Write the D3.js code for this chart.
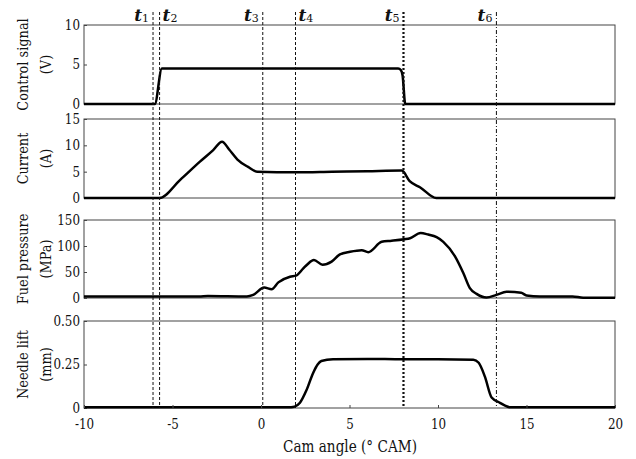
<!DOCTYPE html>
<html>
<head>
<meta charset="utf-8">
<script src="https://cdn.jsdelivr.net/npm/d3@7"></script>
<style>
  body { margin: 0; background: #fff; }
  svg { display: block; }
</style>
</head>
<body>
<svg id="chart" width="636" height="459"></svg>
<script>
// cam angle ticks (shared x axis)
var xTicks = [-10, -5, 0, 5, 10, 15, 20];

// event markers t1..t6 (deg CAM)
var markerNames = ["1", "2", "3", "4", "5", "6"];
var markerAngles = [-6.1, -5.73, 0.1, 1.95, 8.05, 13.3];

// control signal (V)
var signalAngle = [-10, -6.0, -5.6, 7.75, 7.9, 8.0, 8.15, 20];
var signalValue = [0, 0, 4.5, 4.5, 4.3, 3.6, 0, 0];

// injector current (A)
var currentAngle = [-10, -5.73, -4.58, -3.45, -2.7, -2.2, -1.8, -1.33, -0.73, -0.2, 2, 4, 6, 7.95, 8.4, 9.0, 9.9, 20];
var currentValue = [0, 0, 3.4, 6.9, 9.1, 10.7, 9.2, 7.3, 5.9, 5.0, 4.9, 5.0, 5.1, 5.2, 3.2, 2.0, 0, 0];

// fuel pressure (MPa)
var pressureAngle = [-10, -3.5, -3.0, -0.8, -0.44, 0.18, 0.6, 0.98, 1.64, 1.98, 2.39, 2.6, 2.99, 3.48, 3.99, 4.46, 5.03, 5.69, 6.06, 6.82, 7.38, 8.08, 8.42, 9.02, 9.45, 9.92, 10.3, 10.96, 11.43, 11.8, 12.18, 12.74, 13.3, 13.87, 14.7, 15.0, 15.76, 17.6, 18.2, 20];
var pressureValue = [3, 3, 4, 3, 6, 20, 17, 30, 41, 43, 57, 64, 73, 64, 70, 84, 89, 92, 88, 108, 110, 113, 115, 125, 122, 117, 108, 80, 48, 19, 8, 1, 6, 12, 10, 5, 3, 3, 0.5, 0.5];

// needle lift (mm)
var liftAngle = [-10, 1.7, 1.9, 2.2, 2.56, 2.94, 3.2, 3.41, 4.07, 6, 8, 10, 12.0, 12.3, 12.65, 13.03, 13.5, 14.04, 20];
var liftValue = [0.005, 0.005, 0.008, 0.03, 0.1, 0.2, 0.25, 0.27, 0.28, 0.282, 0.28, 0.28, 0.278, 0.26, 0.18, 0.06, 0.03, 0.005, 0.005];

var serif = "'DejaVu Serif', serif";

// DejaVu Serif is wider than the Times face of the original, narrow it a bit
function squeeze(sel, k) {
  sel.each(function() {
    var w = this.getComputedTextLength();
    d3.select(this).attr("textLength", w * k).attr("lengthAdjust", "spacingAndGlyphs");
  });
}

var panels = [
  { top: 25, bottom: 104, max: 10, ticks: [0, 5, 10], label: ["Control signal", "(V)"], xs: signalAngle, ys: signalValue, fmt: function(d) { return String(d); } },
  { top: 119, bottom: 198, max: 15, ticks: [0, 5, 10, 15], label: ["Current", "(A)"], xs: currentAngle, ys: currentValue, fmt: function(d) { return String(d); } },
  { top: 220, bottom: 298, max: 150, ticks: [0, 50, 100, 150], label: ["Fuel pressure", "(MPa)"], xs: pressureAngle, ys: pressureValue, fmt: function(d) { return String(d); } },
  { top: 321, bottom: 408, max: 0.5, ticks: [0, 0.25, 0.5], label: ["Needle lift", "(mm)"], xs: liftAngle, ys: liftValue, fmt: function(d) { return d === 0 ? "0" : d3.format(".2f")(d); } }
];

var svg = d3.select("#chart");
var left = 84, right = 615;

var x = d3.scaleLinear().domain([-10, 20]).range([left, right]);

panels.forEach(function(p, i) {
  var y = d3.scaleLinear().domain([0, p.max]).range([p.bottom, p.top]);
  var g = svg.append("g");

  // frame
  g.append("rect")
    .attr("x", left).attr("y", p.top)
    .attr("width", right - left).attr("height", p.bottom - p.top)
    .attr("fill", "none").attr("stroke", "#444").attr("stroke-width", 1);

  var yAxis = g.append("g")
    .attr("transform", "translate(" + left + ",0)")
    .call(d3.axisLeft(y).tickValues(p.ticks).tickSize(-3).tickPadding(4).tickFormat(p.fmt));
  yAxis.attr("font-family", serif).attr("font-size", 14);
  yAxis.select(".domain").remove();
  yAxis.selectAll("line").attr("stroke", "#444");
  yAxis.selectAll("text").attr("fill", "#111").call(squeeze, 0.85);

  // two-line rotated label
  var cy = (p.top + p.bottom) / 2;
  p.label.forEach(function(s, k) {
    svg.append("text")
      .attr("transform", "translate(" + (28 + k * 23) + "," + cy + ") rotate(-90)")
      .attr("text-anchor", "middle")
      .attr("font-family", serif)
      .attr("font-size", 15)
      .attr("fill", "#111")
      .text(s)
      .call(squeeze, 0.86);
  });

  var pts = p.xs.map(function(a, k) { return [a, p.ys[k]]; });
  g.append("path")
    .datum(pts)
    .attr("fill", "none")
    .attr("stroke", "#000")
    .attr("stroke-width", 2.5)
    .attr("stroke-linejoin", "round")
    .attr("d", d3.line().x(function(d) { return x(d[0]); }).y(function(d) { return y(d[1]); }).curve(d3.curveMonotoneX));

  if (i === panels.length - 1) {
    var xAxis = g.append("g")
      .attr("transform", "translate(0," + p.bottom + ")")
      .call(d3.axisBottom(x).tickValues(xTicks).tickSize(-3).tickPadding(11).tickFormat(function(d) { return String(d); }));
    xAxis.attr("font-family", serif).attr("font-size", 14);
    xAxis.select(".domain").remove();
    xAxis.selectAll("line").attr("stroke", "#444");
    xAxis.selectAll("text").attr("fill", "#111").call(squeeze, 0.85);
  }
});

// marker lines
var dashes = ["3,2", "3,2", "3,2", "3,2", "2,2", "4,2,1,2"];
var widths = [1, 1, 1, 1, 2.2, 1];
var anchors = ["end", "start", "end", "start", "end", "end"];
markerAngles.forEach(function(a, i) {
  var px = x(a);
  svg.append("line")
    .attr("x1", px).attr("x2", px)
    .attr("y1", 12).attr("y2", 408)
    .attr("stroke", "#111")
    .attr("stroke-width", widths[i])
    .attr("stroke-dasharray", dashes[i]);
  var tx = anchors[i] === "end" ? px - 4 : px + 3;
  var t = svg.append("text")
    .attr("x", tx).attr("y", 21)
    .attr("text-anchor", anchors[i])
    .attr("font-family", serif)
    .attr("fill", "#111");
  t.append("tspan").text("t").attr("font-style", "italic").attr("font-weight", "bold").attr("font-size", 17);
  t.append("tspan").text(markerNames[i]).attr("font-size", 11).attr("dy", 1);
});

svg.append("text")
  .attr("x", 350).attr("y", 452)
  .attr("text-anchor", "middle")
  .attr("font-family", serif)
  .attr("font-size", 17)
  .attr("fill", "#111")
  .text("Cam angle (°  CAM)")
  .call(squeeze, 0.8);
</script>
</body>
</html>
